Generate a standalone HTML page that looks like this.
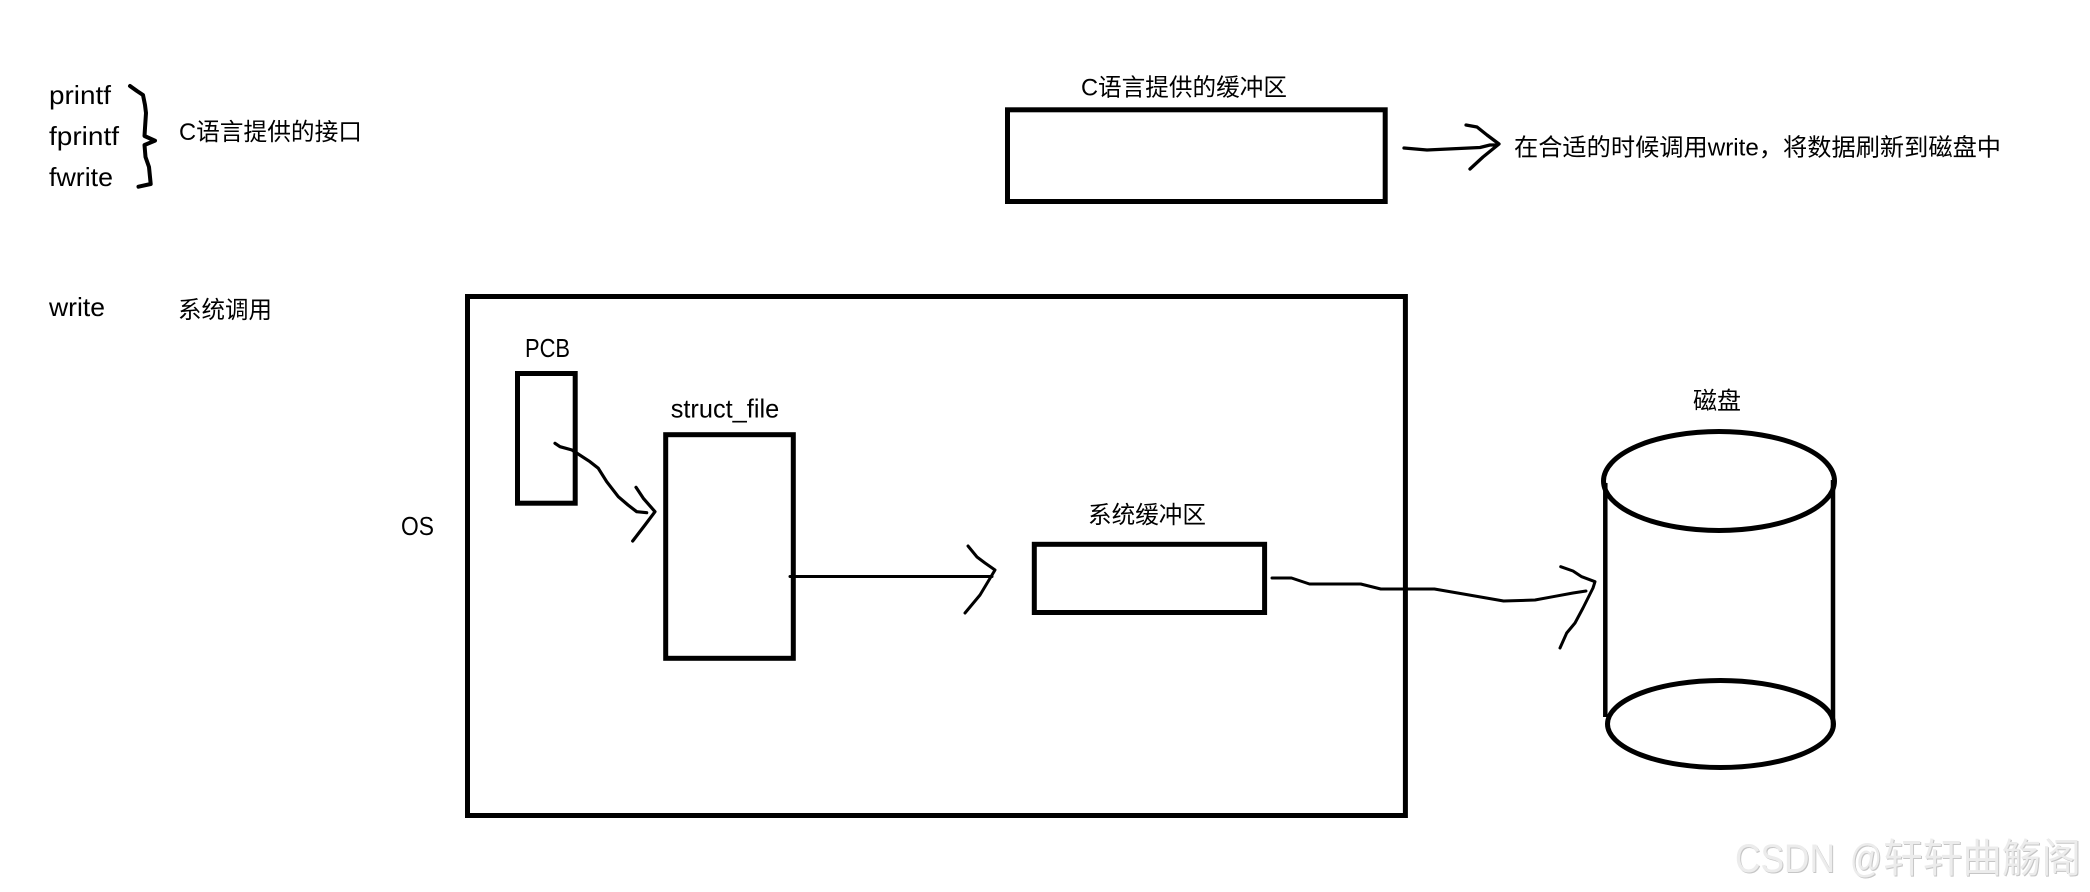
<!DOCTYPE html>
<html lang="zh">
<head>
<meta charset="utf-8">
<title>C语言缓冲区示意图</title>
<style>
html,body{margin:0;padding:0;background:#fff;width:2090px;height:892px;overflow:hidden}
svg{display:block}
text{font-family:"Liberation Sans","Noto Sans CJK SC",sans-serif;fill:#000;font-size:24px}
.l{font-size:26px}
.draw{fill:none;stroke:#000;stroke-linejoin:round;stroke-linecap:round}
.box{fill:none;stroke:#000;stroke-width:5}
.wa{font-size:40px;fill:#c6c6c6}
.wb{font-size:40px;fill:#ececec}
</style>
</head>
<body>
<svg width="2090" height="892" viewBox="0 0 2090 892" xmlns="http://www.w3.org/2000/svg">
<rect width="2090" height="892" fill="#fff"/>

<!-- left labels -->
<text class="l" x="49" y="104" textLength="62" lengthAdjust="spacingAndGlyphs">printf</text>
<text class="l" x="49" y="145" textLength="70" lengthAdjust="spacingAndGlyphs">fprintf</text>
<text class="l" x="49" y="186" textLength="64" lengthAdjust="spacingAndGlyphs">fwrite</text>
<text class="l" x="49" y="316" textLength="56" lengthAdjust="spacingAndGlyphs">write</text>
<text x="179" y="140" textLength="183" lengthAdjust="spacingAndGlyphs">C语言提供的接口</text>
<text x="178" y="318" textLength="94" lengthAdjust="spacingAndGlyphs">系统调用</text>

<!-- brace -->
<polyline class="draw" stroke-width="4" points="130,86 137,91 143,95 145,105 146,113 145,128 144.500,136 155,140.700 144.500,145 145.500,157 149,167 150.700,184 138.500,186.700"/>

<!-- C buffer -->
<text x="1081" y="95.500" textLength="206" lengthAdjust="spacingAndGlyphs">C语言提供的缓冲区</text>
<rect class="box" x="1007.500" y="109.800" width="377.700" height="91.700"/>
<polyline class="draw" stroke-width="3.300" points="1404,148 1427,150 1480,147.500 1490,145 1497,145"/>
<polyline class="draw" stroke-width="3.300" points="1466,125 1477,127 1487,135 1499,144 1483,157 1470,169"/>
<text x="1514" y="155.500" textLength="487" lengthAdjust="spacingAndGlyphs">在合适的时候调用write，将数据刷新到磁盘中</text>

<!-- OS box -->
<rect class="box" x="467.500" y="296.500" width="937.900" height="519"/>
<text class="l" x="401" y="535" textLength="33" lengthAdjust="spacingAndGlyphs">OS</text>

<!-- PCB -->
<text class="l" x="525" y="357" textLength="45" lengthAdjust="spacingAndGlyphs">PCB</text>
<rect class="box" x="517.500" y="373.500" width="57.700" height="129.700"/>

<!-- struct_file -->
<text class="l" x="670.700" y="417.500" textLength="108.500" lengthAdjust="spacingAndGlyphs">struct_file</text>
<rect class="box" x="665.700" y="434.700" width="127.600" height="223.600"/>

<!-- arrow PCB to struct_file -->
<polyline class="draw" stroke-width="3.200" points="555,443.300 560,446.700 572,450 590,461.700 598.300,468.300 606.700,481.700 618.300,496.700 628,505 636.700,511.700 646.700,512.700"/>
<polyline class="draw" stroke-width="3.200" points="636,487.300 643.300,498.300 655,511.700 645,525 632.700,541"/>

<!-- arrow struct_file to system buffer -->
<line class="draw" stroke-width="3" x1="790" y1="576.500" x2="992" y2="576.500"/>
<polyline class="draw" stroke-width="3" points="968,546 977,557 985,563 995,570 980,595 965,613"/>

<!-- system buffer -->
<text x="1088" y="523" textLength="118" lengthAdjust="spacingAndGlyphs">系统缓冲区</text>
<rect class="box" x="1034.300" y="544.300" width="230.300" height="68.200"/>

<!-- arrow to disk -->
<polyline class="draw" stroke-width="3" points="1272,578 1291.500,578 1309.500,584 1360.700,584 1380.800,589 1434.400,589 1463.400,594 1503.600,601 1535,600 1553,596.700 1573,593 1586,591"/>
<polyline class="draw" stroke-width="3" points="1560.700,566.700 1573,571 1581.700,576.700 1595,581.700 1593,588 1583,608 1575,623 1566.700,633 1560,648"/>

<!-- disk -->
<text x="1693" y="409" textLength="48" lengthAdjust="spacingAndGlyphs">磁盘</text>
<ellipse cx="1719" cy="481" rx="115.500" ry="49.500" fill="none" stroke="#000" stroke-width="5"/>
<ellipse cx="1720.500" cy="724" rx="113" ry="43.500" fill="none" stroke="#000" stroke-width="5"/>
<line x1="1605.300" y1="483" x2="1605.300" y2="717" stroke="#000" stroke-width="4.500"/>
<line x1="1833" y1="480" x2="1833" y2="728" stroke="#000" stroke-width="4.500"/>

<!-- watermark -->
<text class="wa" x="1736" y="873" textLength="100" lengthAdjust="spacingAndGlyphs">CSDN</text>
<text class="wa" x="1851" y="873" textLength="32" lengthAdjust="spacingAndGlyphs">@</text>
<text class="wa" x="1884" y="873" textLength="198" lengthAdjust="spacingAndGlyphs">轩轩曲觞阁</text>
<text class="wb" x="1735" y="872" textLength="100" lengthAdjust="spacingAndGlyphs">CSDN</text>
<text class="wb" x="1850" y="872" textLength="32" lengthAdjust="spacingAndGlyphs">@</text>
<text class="wb" x="1883" y="872" textLength="198" lengthAdjust="spacingAndGlyphs">轩轩曲觞阁</text>
</svg>
</body>
</html>
